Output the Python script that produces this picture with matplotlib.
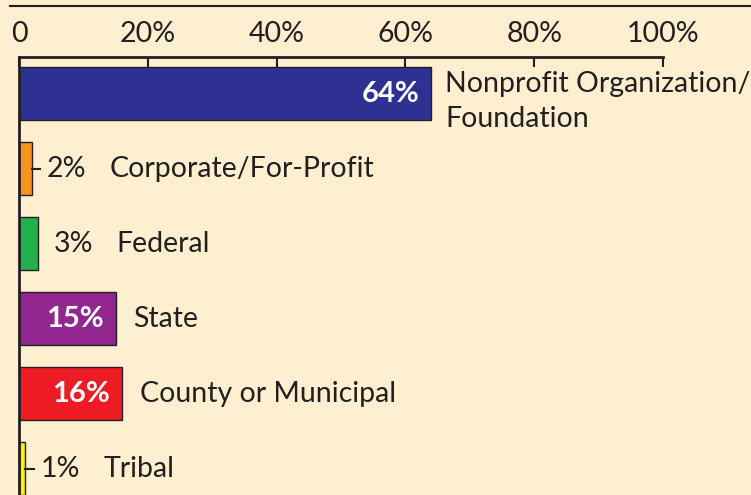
import matplotlib
matplotlib.use("Agg")
import matplotlib.pyplot as plt
from matplotlib.lines import Line2D

categories = ["Nonprofit Organization/\nFoundation", "Corporate/For-Profit", "Federal",
              "State", "County or Municipal", "Tribal"]
values = [64, 2, 3, 15, 16, 1]
colors = ["#2e3192", "#f7941d", "#22b24c", "#92278f", "#ed1c24", "#fff200"]
ticks = [0, 20, 40, 60, 80, 100]
tick_labels = ["0", "20%", "40%", "60%", "80%", "100%"]

bg = "#fdefcf"
ink = "#231f20"
plt.rcParams['font.family'] = ['Lato', 'DejaVu Sans']
fs = 20.5

fig = plt.figure(figsize=(7.51, 4.95), dpi=100, facecolor=bg)
ax = fig.add_axes([19/751, 0, 644/751, 1 - 57/495])
ax.set_facecolor(bg)

y = list(range(len(values)))
ax.barh(y, values, height=0.71, color=colors, edgecolor=ink, linewidth=1)
ax.set_xlim(0, 100)
ax.set_ylim(5.353, -0.488)

ax.xaxis.tick_top()
ax.set_xticks(ticks)
ax.set_xticklabels(tick_labels, fontsize=fs, color=ink)
ax.tick_params(axis='x', direction='in', length=7.5, width=1.5, color=ink, pad=7)
ax.set_yticks([])
for s in ['right', 'bottom']:
    ax.spines[s].set_visible(False)
ax.spines['top'].set_linewidth(2)
ax.spines['left'].set_linewidth(2)
ax.spines['top'].set_color(ink)
ax.spines['left'].set_color(ink)

px = 72 / 100  # pixels -> points
for i, (v, c) in enumerate(zip(values, categories)):
    if v >= 10:
        ax.annotate(f"{v}%", (v, i), xytext=(-12*px, 0), textcoords='offset points',
                    ha='right', va='center', color='white', fontsize=21, fontweight='bold')
        ax.annotate(c, (v, i), xytext=(14*px if '\n' in c else 18*px, -8*px if '\n' in c else 0),
                    textcoords='offset points', ha='left', va='center', color=ink,
                    fontsize=fs, linespacing=1.45)
    else:
        if v < 3:
            ax.plot([v, v + 1.3], [i, i], color=ink, lw=1.5, clip_on=False)
        ax.annotate(f"{v}%", (v, i), xytext=(15*px, 0), textcoords='offset points',
                    ha='left', va='center', color=ink, fontsize=fs)
        ax.annotate(c, (v, i), xytext=(78*px, 0), textcoords='offset points',
                    ha='left', va='center', color=ink, fontsize=fs)

fig.add_artist(Line2D([10/751, 1], [1 - 6/495, 1 - 6/495], color=ink, lw=1.5))

fig.savefig("out.png", dpi=100, facecolor=bg)
